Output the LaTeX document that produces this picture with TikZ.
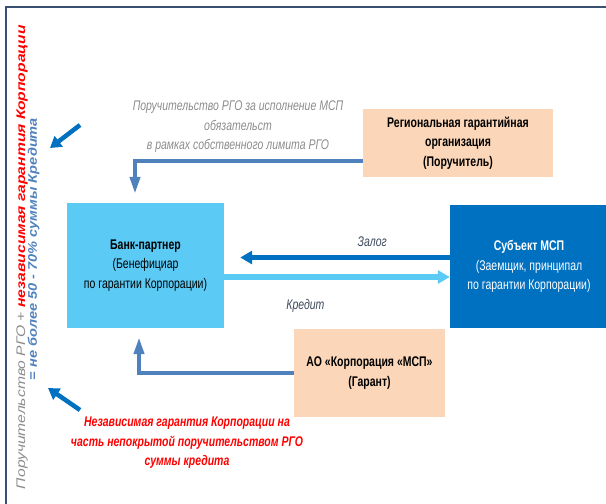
\documentclass[tikz,border=0pt]{standalone}
\usepackage{fontspec}
\setmainfont{Liberation Sans}[FakeStretch=0.75]
\newfontfamily\sidefont{Liberation Sans}
\usetikzlibrary{arrows.meta}

\definecolor{bankblue}{HTML}{5BCBF5}
\definecolor{smeblue}{HTML}{0070C0}
\definecolor{peach}{HTML}{FBD6B8}
\definecolor{flowblue}{HTML}{4F81BD}
\definecolor{framegray}{HTML}{3A5070}
\definecolor{notegray}{HTML}{8C8C8C}
\definecolor{labelgray}{HTML}{3D4A5C}

\begin{document}
\begin{tikzpicture}[x = 1pt, y = -1pt,
	party/.style = {align = center, inner sep = 0pt, font = \fontsize{14}{19.5}\selectfont},
	flow/.style = {flowblue, line width = 4pt, -{Triangle[width = 10pt, length = 17pt]}},
	deal/.style = {line width = 5.5pt, -{Triangle[width = 13pt, length = 12pt]}},
	hint/.style = {smeblue, line width = 4.5pt, -{Triangle[width = 13pt, length = 11pt]}},
	note/.style = {align = center, font = \fontsize{14}{19.5}\selectfont\itshape}]

	\useasboundingbox (0, 0) rectangle (606, 504);

	% Frame, cut by the page on the right and at the bottom
	\draw [framegray, line width = 1.5pt] (6, 504) -- (6, 7) -- (606, 7);

	% Parties
	\node [party, fill = bankblue, minimum width = 157pt, minimum height = 125pt] (bank) at (145.5, 265.5)
		{\textbf{Банк-партнер}\\(Бенефициар\\по гарантии Корпорации)};
	\node [party, fill = smeblue, text = white, minimum width = 158pt, minimum height = 123pt] (sme) at (529, 266.5)
		{\textbf{Субъект МСП}\\(Заемщик, принципал\\по гарантии Корпорации)};
	\node [party, fill = peach, minimum width = 190pt, minimum height = 68pt] (rgo) at (458, 143)
		{\textbf{Региональная гарантийная}\\\textbf{организация}\\\textbf{(Поручитель)}};
	\node [party, fill = peach, minimum width = 151pt, minimum height = 88pt] (corp) at (369.5, 373)
		{\textbf{АО «Корпорация «МСП»}\\\textbf{(Гарант)}};

	% Guarantees
	\draw [flow] ([yshift = -18pt] rgo.west) -| ([xshift = -10.5pt, yshift = 9pt] bank.north);
	\draw [flow] (corp.west) -| ([xshift = -6.5pt, yshift = -9pt] bank.south);

	\node [note, text = notegray] (rgo-note) at (238, 127)
		{Поручительство РГО за исполнение МСП\\обязательст\\в рамках собственного лимита РГО};
	\node [note, text = red, font = \fontsize{14}{19.5}\selectfont\bfseries\itshape] (corp-note) at (187, 443)
		{Независимая гарантия Корпорации на\\часть непокрытой поручительством РГО\\суммы кредита};

	% Loan and pledge
	\draw [deal, smeblue] ([yshift = 9pt] sme.west) -- node [pos = 0.37, above = 5pt, note, text = labelgray] {Залог}
		([xshift = 16pt, yshift = 8pt] bank.east);
	\draw [deal, bankblue] ([yshift = -11.5pt] bank.east) -- node [pos = 0.36, below = 16pt, note, text = labelgray] {Кредит}
		([yshift = -10.5pt] sme.west);

	% Total on the left side
	\node [rotate = 90, inner sep = 0pt, font = \sidefont\fontsize{12.5}{14}\selectfont\itshape] (total) at (22, 257)
		{\resizebox{464pt}{\height}{\textcolor{notegray}{Поручительство РГО +} \textcolor{red}{\bfseries независимая гарантия Корпорации}}};
	\node [rotate = 90, inner sep = 0pt, font = \sidefont\fontsize{12.5}{14}\selectfont\bfseries\itshape, text = flowblue] (share) at (33.5, 249)
		{\resizebox{262pt}{\height}{= не более 50 - 70\% суммы Кредита}};

	\coordinate (top-hint) at (80, 125);
	\coordinate (bottom-hint) at (80, 410);
	\draw [hint] (top-hint) -- (50, 148);
	\draw [hint] (bottom-hint) -- (48, 388);

\end{tikzpicture}
\end{document}
